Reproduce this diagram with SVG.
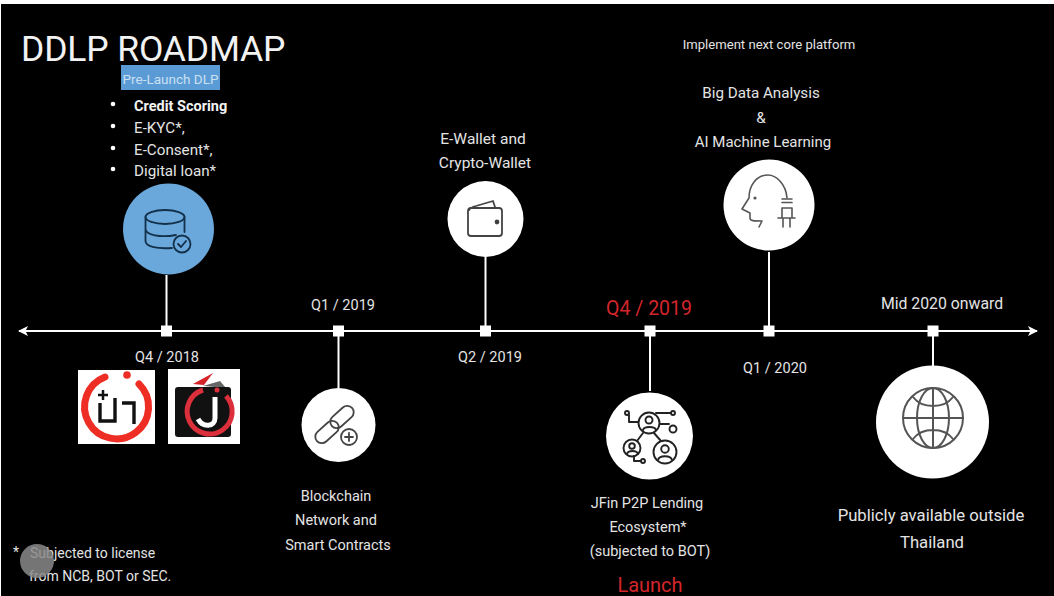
<svg xmlns="http://www.w3.org/2000/svg" width="1054" height="596" viewBox="0 0 1054 596">
<style>
text{font-family:Roboto,"Liberation Sans",sans-serif;fill:#e4e4e4;font-size:14.5px;text-anchor:middle}
.l{text-anchor:start}
.red{fill:#d5252b}
.ln{stroke:#fff;stroke-width:2;fill:none}
.ic{fill:none;stroke:#444;stroke-width:1.8;stroke-linecap:round;stroke-linejoin:round}
.disc{fill:#fff}
</style>
<defs>
<marker id="ah" viewBox="0 0 10 10" refX="9" refY="5" markerWidth="5" markerHeight="5" orient="auto-start-reverse"><path d="M0 0L10 5L0 10L2.5 5Z" fill="#fff"/></marker>
</defs>
<rect width="1054" height="596" fill="#fff"/>
<rect x="1" y="4" width="1053" height="592" fill="#000"/>
<text class="l" x="21" y="61" style="font-size:35.5px;letter-spacing:-.15px;fill:#f2f2f2">DDLP ROADMAP</text>
<g id="connectors">
<path class="ln" d="M19 331H1037" marker-start="url(#ah)" marker-end="url(#ah)"/>
<path class="ln" d="M166.500 275V331M338.500 331V388M485.500 256V331M650 331V391M769 252V331M933 331V366"/>
<g fill="#fff"><rect x="161" y="325.500" width="11" height="11"/><rect x="333" y="325.500" width="11" height="11"/><rect x="480" y="325.500" width="11" height="11"/><rect x="644.500" y="325.500" width="11" height="11"/><rect x="763.500" y="325.500" width="11" height="11"/><rect x="927.500" y="325.500" width="11" height="11"/></g>
</g>
<g id="node-q4-2018">
<rect x="121" y="65" width="99" height="25" fill="#5b9bd5"/>
<text x="170.500" y="84" style="font-size:13.500px;fill:#c9e0f2">Pre-Launch DLP</text>
<g fill="#fff"><circle cx="113" cy="104" r="2.300"/><circle cx="113" cy="126" r="2.300"/><circle cx="113" cy="148" r="2.300"/><circle cx="113" cy="169" r="2.300"/></g>
<text class="l" x="134" y="111" style="font-weight:700;fill:#f2f2f2">Credit Scoring</text>
<text class="l" x="134" y="133" style="font-size:15.200px">E-KYC*,</text>
<text class="l" x="134" y="155" style="font-size:15.200px">E-Consent*,</text>
<text class="l" x="134" y="176" style="font-size:15.200px">Digital loan*</text>
<circle cx="168.500" cy="229" r="45.500" fill="#6aa7da"/>
<g class="ic" style="stroke:#12304a">
<ellipse cx="165" cy="217" rx="19.500" ry="7"/>
<path d="M145.500 217V241C145.500 247 158 249 172 248M184.500 217V232M145.500 229C146 235 160 238 176 235"/>
<circle cx="182" cy="244" r="8.500" fill="#6aa7da"/>
<path d="M178 244L181 247L186 241"/>
</g>
<text x="167" y="362">Q4 / 2018</text>
<g id="logo-pao">
<rect x="78" y="370" width="77" height="74" fill="#fff"/>
<path d="M105 377A32 32 0 1 0 139 384" fill="none" stroke="#ee2e24" stroke-width="7" stroke-linecap="round"/>
<circle cx="127" cy="375" r="3.800" fill="#ee2e24"/>
<path d="M100 403V421H115V398M122 403H134V424" fill="none" stroke="#111" stroke-width="3.400"/>
<path d="M98 395H108M103 390V400" stroke="#111" stroke-width="2.500"/>
</g>
<g id="logo-j">
<rect x="168" y="369" width="72" height="75" fill="#fff"/>
<path d="M193 384L213 373L204 385Z" fill="#d5252b"/>
<path d="M203 386L220 381L226 388Z" fill="#666"/>
<rect x="175" y="387" width="56" height="50" rx="3" fill="#111"/>
<path d="M203 390A22.500 22.500 0 1 0 226 396" fill="none" stroke="#dc2f3c" stroke-width="5"/>
<path d="M215 397V418C215 427 203 428 198 419" fill="none" stroke="#fff" stroke-width="5"/>
<circle cx="217" cy="390" r="2.500" fill="#dc2f3c"/>
</g>
</g>
<g id="node-q1-2019">
<text x="343" y="310">Q1 / 2019</text>
<circle class="disc" cx="338.500" cy="425" r="37"/>
<g class="ic">
<rect x="328.500" y="410.500" width="27" height="13" rx="6.500" transform="rotate(-42 342 417)"/>
<rect x="313.500" y="425.500" width="27" height="13" rx="6.500" transform="rotate(-42 327 432)"/>
<circle cx="349" cy="437" r="8" fill="#fff"/>
<path d="M345 437H353M349 433V441"/>
</g>
<text x="336" y="501">Blockchain</text>
<text x="336" y="525">Network and</text>
<text x="338" y="550">Smart Contracts</text>
</g>
<g id="node-q2-2019">
<circle class="disc" cx="485.500" cy="219" r="38"/>
<g class="ic">
<rect x="468" y="208" width="34" height="28" rx="3"/>
<path d="M469 210C470 208 472 207 476 206L493 201L495 207"/>
<circle cx="497" cy="222" r="1.500" fill="#222"/>
</g>
<text x="483" y="144" style="font-size:15.500px">E-Wallet and</text>
<text x="485" y="168" style="font-size:15.500px">Crypto-Wallet</text>
<text x="490" y="362">Q2 / 2019</text>
</g>
<g id="node-q4-2019">
<text class="red" x="649" y="315" style="font-size:19.500px">Q4 / 2019</text>
<circle class="disc" cx="649.500" cy="436" r="43.500"/>
<g class="ic" style="stroke:#222;stroke-width:1.900">
<circle cx="649" cy="423" r="10.500"/><circle cx="632" cy="448" r="8.500"/><circle cx="665" cy="452" r="11.500"/>
<circle cx="649" cy="420" r="3.500"/><path d="M643 430C644 426 655 426 656 430"/>
<circle cx="632" cy="446" r="2.800"/><path d="M627 454C628 450 637 450 638 454"/>
<circle cx="665" cy="449" r="3.800"/><path d="M658 460C659 455 671 455 672 460"/>
<circle cx="627" cy="413" r="2"/><path d="M629 415V422H638"/>
<circle cx="673" cy="413" r="2"/><path d="M656 413H671M660 424H669"/>
<circle cx="673" cy="429" r="3.500"/>
<circle cx="643" cy="461" r="2"/><path d="M641 461H634V456M643 433L637 441M654 433L661 441"/>
</g>
<text x="647" y="508">JFin P2P Lending</text>
<text x="648" y="532">Ecosystem*</text>
<text x="650" y="556">(subjected to BOT)</text>
<text class="red" x="650" y="592" style="font-size:20px">Launch</text>
</g>
<g id="node-q1-2020">
<text x="769" y="49" style="font-size:13.100px">Implement next core platform</text>
<text x="761" y="98" style="font-size:15.200px">Big Data Analysis</text>
<text x="761" y="123" style="font-size:15.200px">&amp;</text>
<text x="763" y="147" style="font-size:15px">AI Machine Learning</text>
<circle class="disc" cx="769" cy="205" r="45.500"/>
<g class="ic" style="stroke:#555;stroke-width:1.600">
<path d="M787 198C786 184 776 175 768 175C756 175 749 186 749 198L742 209L750 213V218C750 221 754 221 762 221L759 227"/>
<path d="M782 199H792M782 202.500H792M782 208H792V218H782ZM778 218H795M783 218V227M790 218V227"/>
<circle cx="755" cy="198" r=".8" fill="#555"/>
</g>
<text x="775" y="373">Q1 / 2020</text>
</g>
<g id="node-mid-2020">
<text x="942" y="309" style="font-size:15.800px">Mid 2020 onward</text>
<circle class="disc" cx="932.500" cy="422" r="56.500"/>
<g class="ic" style="stroke:#555;stroke-width:2">
<circle cx="933" cy="418" r="30"/>
<ellipse cx="933" cy="418" rx="16" ry="30"/>
<path d="M933 388V448M903 418H963M913 397C922 409 944 409 953 397M913 439C922 427 944 427 953 439"/>
</g>
<text x="931" y="521" style="font-size:16.700px">Publicly available outside</text>
<text x="932" y="548" style="font-size:16.700px">Thailand</text>
</g>
<g id="footnote">
<text class="l" x="13" y="557" style="font-size:14px">*</text>
<text class="l" x="30" y="558" style="font-size:14px">Subjected to license</text>
<text class="l" x="29" y="581" style="font-size:14px">from NCB, BOT or SEC.</text>
<circle cx="37" cy="561" r="17" fill="#8a8a8a" fill-opacity=".85"/>
</g>
</svg>
